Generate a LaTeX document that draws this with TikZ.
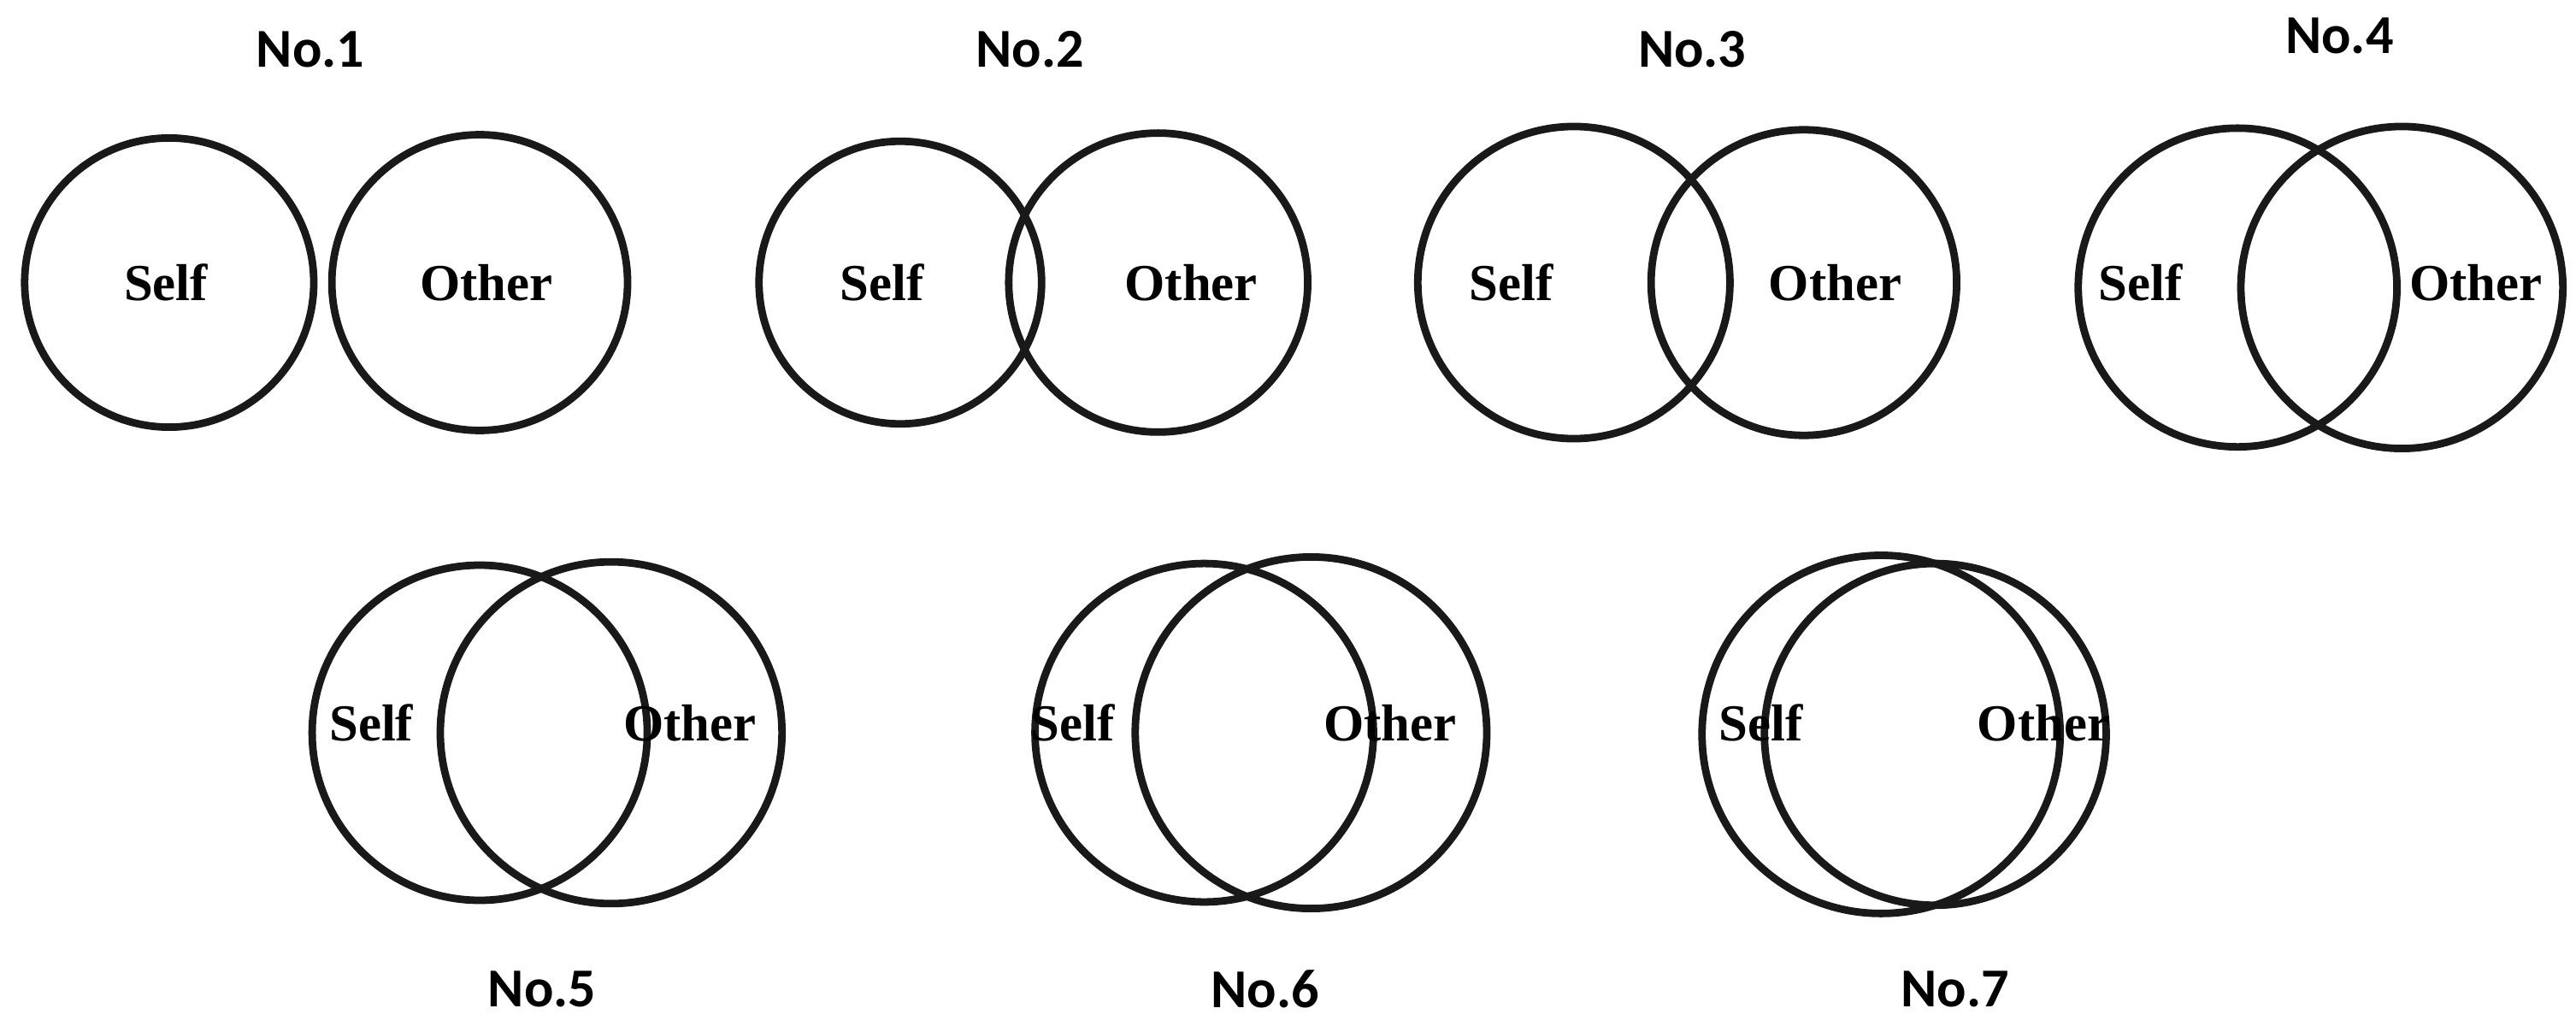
\documentclass[tikz,border=0pt]{standalone}
\usepackage{fontspec}
\setmainfont{Liberation Serif}
\newfontfamily\lab{Carlito}
\begin{document}
\begin{tikzpicture}[x=0.02cm,y=-0.02cm,
  circ/.style={draw=black!90,line width=2.6pt},
  num/.style={font=\lab\bfseries\fontsize{19}{22}\selectfont},
  txt/.style={font=\bfseries\fontsize{18}{20}\selectfont}]
\useasboundingbox (0,0) rectangle (1568,624);
\foreach \n/\sx/\sr/\ox/\orr/\y in {1/103/88/292/90/172, 2/548/86/705/91/172, 3/958/95/1098/93/172, 4/1362/97/1462/98/175, 5/292/102/372/104/446, 6/733/103/798/107/446, 7/1145/109/1178/104/447}{
  \draw[circ] (\sx,\y) circle (\sr);
  \draw[circ] (\ox,\y) circle (\orr);
}
\node[num] (n1) at (189,30) {No.1};
\node[num] (n2) at (627,30) {No.2};
\node[num] (n3) at (1030,30) {No.3};
\node[num] (n4) at (1424,22) {No.4};
\node[num] (n5) at (330,602) {No.5};
\node[num] (n6) at (770,602) {No.6};
\node[num] (n7) at (1190,602) {No.7};
\node[txt] (s1) at (101,172) {Self};  \node[txt] (o1) at (296,172) {Other};
\node[txt] (s2) at (537,172) {Self};  \node[txt] (o2) at (725,172) {Other};
\node[txt] (s3) at (920,172) {Self};  \node[txt] (o3) at (1117,172) {Other};
\node[txt] (s4) at (1303,172) {Self}; \node[txt] (o4) at (1507,172) {Other};
\node[txt] (s5) at (226,440) {Self};  \node[txt] (o5) at (420,440) {Other};
\node[txt] (s6) at (653,440) {Self};  \node[txt] (o6) at (846,440) {Other};
\node[txt] (s7) at (1072,440) {Self}; \node[txt] (o7) at (1244,440) {Other};
\end{tikzpicture}
\end{document}
